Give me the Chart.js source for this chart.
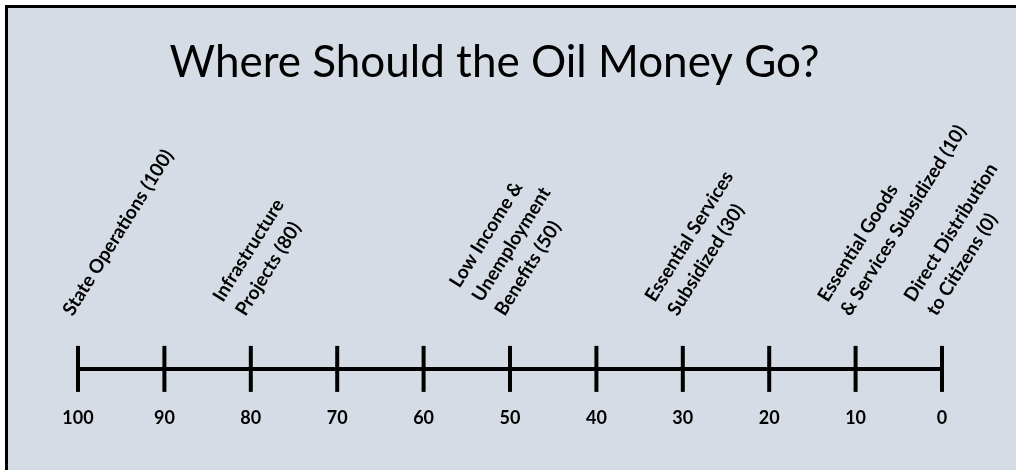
<!DOCTYPE html>
<html>
<head>
<meta charset="utf-8">
<title>Where Should the Oil Money Go?</title>
<script src="https://cdn.jsdelivr.net/npm/chart.js@4.4.0/dist/chart.umd.min.js"></script>
<style>
    html, body { margin: 0; padding: 0; background: #ffffff; overflow: hidden; }
    #frame {
        position: absolute; left: 5px; top: 5px; width: 1040px; height: 500px;
        background: #d6dce5; border-left: 3px solid #000; border-top: 3px solid #000;
    }
    #oilChart { position: absolute; left: 0; top: 0; }
</style>
</head>
<body>
<div id="frame"></div>
<canvas id="oilChart" width="1016" height="470"></canvas>
<script>
/**
 * Number line: where should the oil money go?
 */

const chartTitle = 'Where Should the Oil Money Go?';

// Tick values along the line (left to right)
const tickValues = [100, 90, 80, 70, 60, 50, 40, 30, 20, 10, 0];

// Labelled options and their positions on the line
const optionValues = [100, 80, 50, 30, 10, 0];
const optionLabels = [
    ['State Operations (100)'],
    ['Infrastructure', 'Projects (80)'],
    ['Low Income &', 'Unemployment', 'Benefits (50)'],
    ['Essential Services', 'Subsidized (30)'],
    ['Essential Goods', '& Services Subsidized (10)'],
    ['Direct Distribution', 'to Citizens (0)']
];

const FONT = 'Lato, "Open Sans", sans-serif';

const lineData = tickValues.map(v => ({ x: v, y: 0 }));

const ctx = document.getElementById('oilChart');

new Chart(ctx, {
    type: 'line',
    data: {
        datasets: [{
            data: lineData,
            borderColor: '#000000',
            borderWidth: 4,
            pointStyle: 'line',
            pointRotation: 90,
            pointRadius: 23,
            pointHoverRadius: 23,
            pointBorderWidth: 4,
            pointBorderColor: '#000000',
            clip: false
        }]
    },
    options: {
        responsive: false,
        animation: false,
        devicePixelRatio: 1,
        events: [],
        layout: {
            padding: { top: 0, right: 74, bottom: 0, left: 47 }
        },
        plugins: {
            legend: { display: false },
            tooltip: { enabled: false },
            title: {
                display: true,
                text: chartTitle,
                color: '#000000',
                font: { family: FONT, size: 44, weight: 'normal', lineHeight: 1.2 },
                padding: { top: 36, bottom: 0 }
            }
        },
        scales: {
            x: {
                type: 'linear',
                position: 'bottom',
                min: 0,
                max: 100,
                reverse: true,
                afterBuildTicks: function(scale) {
                    scale.ticks = tickValues.map(v => ({ value: v }));
                },
                afterFit: function(scale) {
                    scale.height = 67;
                },
                grid: { display: false },
                border: { display: false },
                ticks: {
                    autoSkip: false,
                    maxRotation: 0,
                    padding: -4,
                    color: '#000000',
                    font: { family: FONT, size: 18, weight: 'bold' },
                    callback: function(value) {
                        return String(value);
                    }
                }
            },
            x2: {
                type: 'linear',
                axis: 'x',
                position: 'top',
                min: 0,
                max: 100,
                reverse: true,
                afterBuildTicks: function(scale) {
                    scale.ticks = optionValues.map(v => ({ value: v }));
                },
                afterFit: function(scale) {
                    // fixed band for the slanted labels, no side padding
                    scale.height = 246;
                    scale.paddingLeft = 0;
                    scale.paddingRight = 0;
                },
                grid: { display: false },
                border: { display: false },
                ticks: {
                    autoSkip: false,
                    minRotation: 58,
                    maxRotation: 58,
                    padding: 6,
                    labelOffset: 12,
                    color: '#000000',
                    font: { family: FONT, size: 19, weight: 'bold', lineHeight: 1.4 },
                    callback: function(value) {
                        return optionLabels[optionValues.indexOf(value)];
                    }
                }
            },
            y: {
                type: 'linear',
                min: -1,
                max: 1,
                afterFit: function(scale) {
                    scale.width = 31;
                },
                grid: { display: false },
                border: { display: false },
                ticks: { display: false }
            }
        }
    }
});
</script>
</body>
</html>
